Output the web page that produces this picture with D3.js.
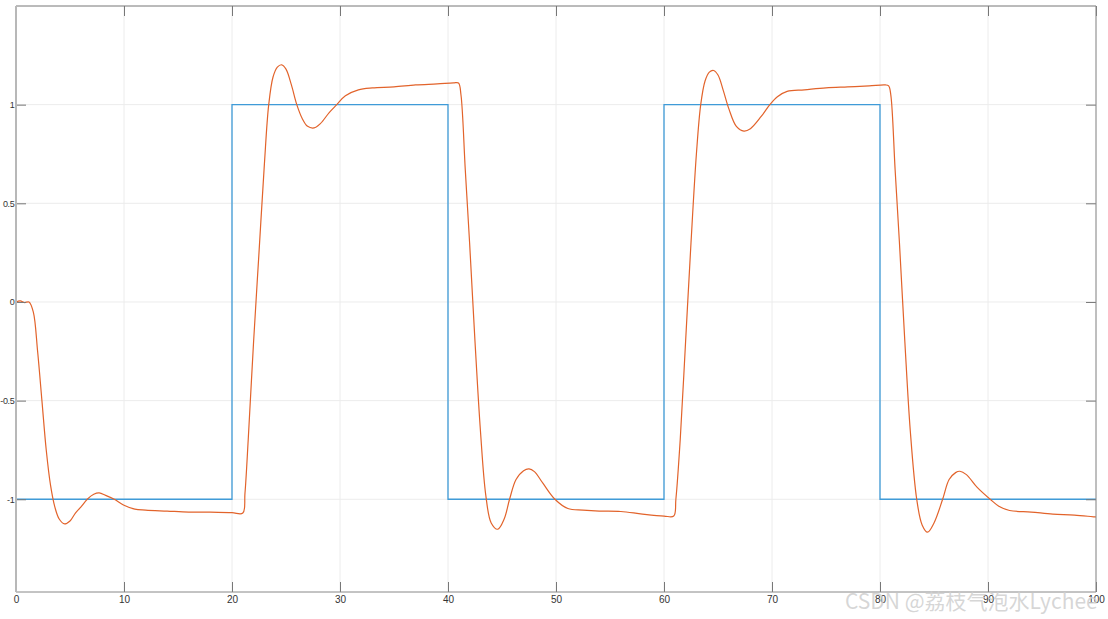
<!DOCTYPE html>
<html>
<head>
<meta charset="utf-8">
<script src="https://cdn.jsdelivr.net/npm/d3@7"></script>
<style>
  body { margin: 0; background: #fff; }
  svg { display: block; font-family: "Liberation Sans", Arial, sans-serif; }
</style>
</head>
<body>
<div id="chart"></div>
<script>
// reference square wave (step after each point)
var refT = [0, 20, 40, 60, 80, 100];
var refV = [-1, 1, -1, 1, -1, -1];

var respT = [0, 0.4, 0.8, 1.2, 1.6, 2.0, 2.4, 2.8, 3.2, 3.6, 4.0, 4.5, 5.0, 5.5, 6.0, 6.6, 7.2, 7.7, 8.3, 9.1, 10, 11, 12, 14, 16, 18, 20, 21.0,
  21.2, 21.5, 22, 22.5, 23, 23.4, 23.8, 24.2, 24.6, 25.0, 25.5, 26, 26.5, 27, 27.6, 28.2, 29, 29.7, 30.5, 31.7, 33, 35, 37, 39, 40.5, 40.97,
  41.2, 41.6, 42, 42.5, 43, 43.5, 44, 44.6, 45.2, 45.7, 46.3, 47, 47.5, 48, 48.8, 49.9, 51.1, 52.5, 54, 56, 58, 60, 60.9,
  61.1, 61.5, 62, 62.5, 63, 63.4, 63.8, 64.2, 64.6, 65, 65.5, 66, 66.7, 67.4, 68, 69, 69.8, 70.5, 71.4, 73, 75, 77, 79, 80.5, 80.8,
  81.0, 81.4, 81.8, 82.3, 82.8, 83.4, 83.9, 84.4, 85, 85.8, 86.4, 87, 87.4, 88, 89, 90.2, 91, 92, 94, 96, 98, 100];
var respV = [0, 0.005, -0.003, 0, -0.05, -0.25, -0.5, -0.75, -0.93, -1.04, -1.10, -1.125, -1.11, -1.07, -1.04, -1.0, -0.975, -0.968, -0.98, -1.0, -1.03, -1.05, -1.055, -1.06, -1.065, -1.065, -1.068, -1.07,
  -0.97, -0.7, -0.2, 0.25, 0.7, 1.0, 1.14, 1.19, 1.202, 1.18, 1.1, 1.0, 0.93, 0.89, 0.882, 0.905, 0.96, 1.0, 1.045, 1.075, 1.085, 1.09, 1.1, 1.105, 1.11, 1.11,
  1.05, 0.67, 0.3, -0.2, -0.65, -0.98, -1.12, -1.152, -1.1, -1.0, -0.9, -0.855, -0.846, -0.86, -0.92, -1.0, -1.047, -1.055, -1.06, -1.062, -1.075, -1.085, -1.085,
  -1.0, -0.7, -0.2, 0.3, 0.75, 1.0, 1.12, 1.165, 1.173, 1.15, 1.07, 0.98, 0.89, 0.866, 0.878, 0.94, 1.0, 1.04, 1.067, 1.075, 1.085, 1.09, 1.095, 1.1, 1.095,
  1.05, 0.67, 0.3, -0.2, -0.65, -1.0, -1.13, -1.167, -1.12, -1.0, -0.9, -0.865, -0.858, -0.875, -0.94, -1.0, -1.035, -1.057, -1.065, -1.075, -1.08, -1.09];

var xTicks = [0, 10, 20, 30, 40, 50, 60, 70, 80, 90, 100];
var yTicks = [-1, -0.5, 0, 0.5, 1];

var width = 1108, height = 619;
var plotLeft = 16, plotTop = 6, plotRight = 1096, plotBottom = 592;
var tickLen = 10;

var svg = d3.select('#chart').append('svg').attr('width', width).attr('height', height);

var x = d3.scaleLinear().domain([0, 100]).range([plotLeft, plotRight]);
var y = d3.scaleLinear().domain([-1.47, 1.5]).range([plotBottom, plotTop]);

// grid
svg.append('g').selectAll('line').data(xTicks).enter().append('line')
  .attr('x1', d => x(d)).attr('x2', d => x(d)).attr('y1', plotTop).attr('y2', plotBottom)
  .attr('stroke', '#ececec').attr('stroke-width', 1);
svg.append('g').selectAll('line').data(yTicks).enter().append('line')
  .attr('y1', d => y(d)).attr('y2', d => y(d)).attr('x1', plotLeft).attr('x2', plotRight)
  .attr('stroke', '#ececec').attr('stroke-width', 1);

// lines
var refPts = refT.map((t, i) => [t, refV[i]]);
var respPts = respT.map((t, i) => [t, respV[i]]);

svg.append('path').datum(refPts)
  .attr('d', d3.line().x(d => x(d[0])).y(d => y(d[1])).curve(d3.curveStepAfter))
  .attr('fill', 'none').attr('stroke', '#3f9bd8').attr('stroke-width', 1.3);

svg.append('path').datum(respPts)
  .attr('d', d3.line().x(d => x(d[0])).y(d => y(d[1])).curve(d3.curveCatmullRom.alpha(0.5)))
  .attr('fill', 'none').attr('stroke', '#e2632b').attr('stroke-width', 1.2);

// axes box (MATLAB style, ticks pointing in)
var axB = svg.append('g').attr('transform', 'translate(0,' + plotBottom + ')')
  .call(d3.axisBottom(x).tickValues(xTicks).tickSizeInner(-tickLen).tickSizeOuter(0).tickPadding(4)
    .tickFormat(d3.format('d')));
var axT = svg.append('g').attr('transform', 'translate(0,' + plotTop + ')')
  .call(d3.axisTop(x).tickValues(xTicks).tickSizeInner(-tickLen).tickSizeOuter(0).tickFormat(''));
var axL = svg.append('g').attr('transform', 'translate(' + plotLeft + ',0)')
  .call(d3.axisLeft(y).tickValues(yTicks).tickSizeInner(-tickLen).tickSizeOuter(0).tickPadding(1)
    .tickFormat(d => String(d)));
var axR = svg.append('g').attr('transform', 'translate(' + plotRight + ',0)')
  .call(d3.axisRight(y).tickValues(yTicks).tickSizeInner(-tickLen).tickSizeOuter(0).tickFormat(''));

[axB, axT, axL, axR].forEach(function(g) {
  g.selectAll('.domain').remove();
  g.selectAll('.tick line').attr('stroke', '#777');
  g.selectAll('text').attr('fill', '#333').style('font-size', '10px');
});
axL.selectAll('text').style('font-size', '9px').style('letter-spacing', '-0.3px').attr('x', -1.5);

svg.append('line').attr('x1', plotLeft).attr('x2', plotRight).attr('y1', plotTop).attr('y2', plotTop).attr('stroke', '#777');
svg.append('line').attr('x1', plotLeft).attr('x2', plotRight).attr('y1', plotBottom).attr('y2', plotBottom).attr('stroke', '#888');
svg.append('line').attr('x1', plotRight).attr('x2', plotRight).attr('y1', plotTop).attr('y2', plotBottom).attr('stroke', '#888');
svg.append('line').attr('x1', plotLeft).attr('x2', plotLeft).attr('y1', plotTop).attr('y2', plotBottom).attr('stroke', '#b8b8b8').attr('stroke-width', 2);

// watermark
svg.append('text').attr('x', 845).attr('y', 609)
  .attr('fill', '#cfcfcf').attr('fill-opacity', 0.85)
  .style('font-size', '21px').style('font-family', '"Noto Sans CJK SC", "Liberation Sans", sans-serif')
  .text('CSDN @荔枝气泡水Lychee');
</script>
</body>
</html>
